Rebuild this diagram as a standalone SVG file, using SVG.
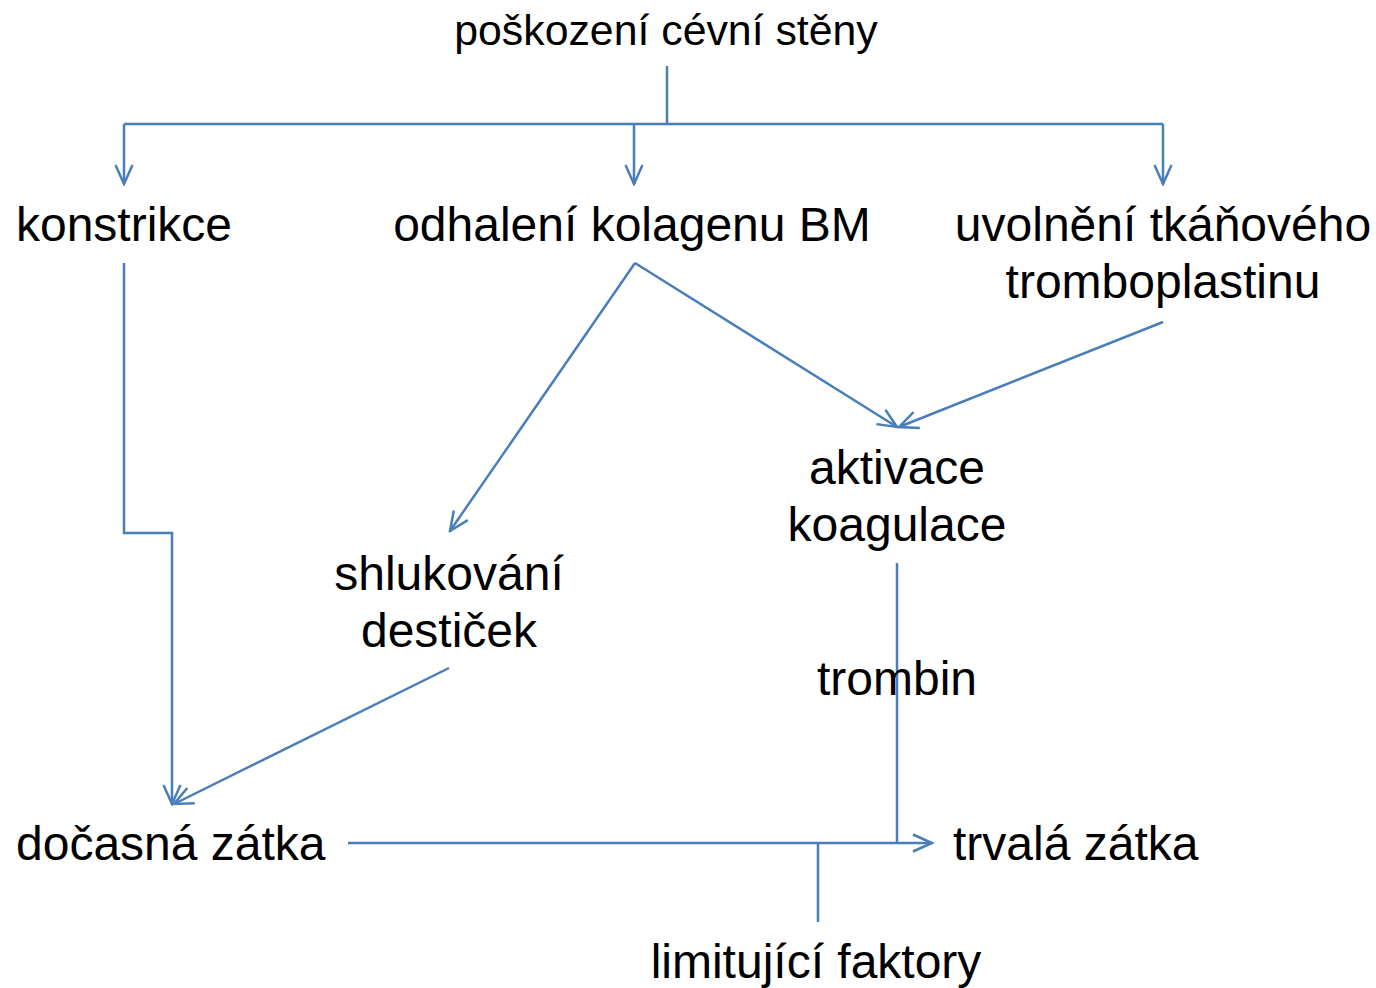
<svg xmlns="http://www.w3.org/2000/svg" width="1376" height="988" viewBox="0 0 1376 988">
<style>
.t{font-family:"Liberation Sans",Arial,sans-serif;font-size:48px;fill:#000;text-anchor:middle}
.s{font-size:42.8px}
.l{text-anchor:start}
.c{fill:none;stroke:#4a7ebb;stroke-width:2.5}
.a{marker-end:url(#ah)}
</style>
<defs>
<marker id="ah" markerUnits="userSpaceOnUse" viewBox="-22 -11 24 22" markerWidth="24" markerHeight="22" refX="0" refY="0" orient="auto">
<path d="M-19,-8.5 L0,0 L-19,8.5" fill="none" stroke="#4a7ebb" stroke-width="2.5"/>
</marker>
</defs>
<rect width="1376" height="988" fill="#fff"/>
<g id="connectors">
<path class="c" d="M667,66 V124"/>
<path class="c" d="M124,124 H1163"/>
<path class="c a" d="M124,124 V184"/>
<path class="c a" d="M634,124 V184"/>
<path class="c a" d="M1163,124 V184"/>
<path class="c a" d="M635,263 L450,531"/>
<path class="c a" d="M635,263 L897,427"/>
<path class="c a" d="M1163,322 L899,427"/>
<path class="c a" d="M124,263 V533 H172 V804"/>
<path class="c a" d="M449,668 L174,804"/>
<path class="c a" d="M348,843 H932"/>
<path class="c" d="M897,563 V843"/>
<path class="c" d="M818,922 V843"/>
</g>
<g id="n-poskozeni"><text class="t s" x="666" y="45">poškození cévní stěny</text></g>
<g id="n-konstrikce"><text class="t" x="124" y="241">konstrikce</text></g>
<g id="n-odhaleni"><text class="t" x="632" y="241">odhalení kolagenu BM</text></g>
<g id="n-uvolneni"><text class="t" x="1163" y="241">uvolnění tkáňového</text><text class="t" x="1163" y="298">tromboplastinu</text></g>
<g id="n-aktivace"><text class="t" x="897" y="484">aktivace</text><text class="t" x="897" y="541">koagulace</text></g>
<g id="n-shlukovani"><text class="t" x="449" y="590">shlukování</text><text class="t" x="449" y="647">destiček</text></g>
<g id="n-trombin"><text class="t" x="897" y="695">trombin</text></g>
<g id="n-docasna"><text class="t l" x="16" y="860">dočasná zátka</text></g>
<g id="n-trvala"><text class="t l" x="953" y="860">trvalá zátka</text></g>
<g id="n-limitujici"><text class="t" x="816" y="978">limitující faktory</text></g>
</svg>
